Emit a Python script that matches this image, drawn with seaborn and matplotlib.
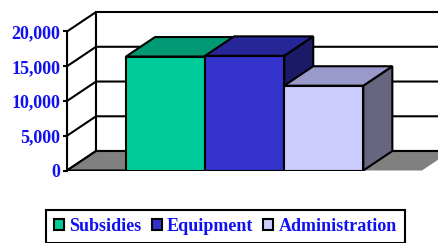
import matplotlib.pyplot as plt
import seaborn as sns
from matplotlib.patches import Polygon, Patch

# chart data
names = ['Subsidies', 'Equipment', 'Administration']
values = [16400, 16500, 12200]
yticks = [0, 5000, 10000, 15000, 20000]
ytick_labels = ['0', '5,000', '10,000', '15,000', '20,000']

# excel-like 3d shading: front / top / side
front_colors = ['#00CC99', '#3333CC', '#CCCCFF']
top_colors = ['#009973', '#262699', '#9999CC']
side_colors = ['#00664D', '#1A1A66', '#666680']
text_blue = '#1010F0'

sns.set_style('white')
plt.rcParams['font.family'] = ['Liberation Serif', 'DejaVu Serif']

fig = plt.figure(figsize=(4.39, 2.43), dpi=100)
ax = fig.add_axes([67 / 439, 72.5 / 243, 372 / 439, 162.5 / 243])

sns.barplot(x=names, y=values, hue=names, palette=front_colors, saturation=1,
            width=1, edgecolor='black', linewidth=1.5, legend=False, ax=ax)
bars = list(ax.patches)

# depth offset of the 3d box (data units)
dx, dy = 0.367, 2800
xl, x_floor = -1.246, 3.242
ax.set_xlim(xl, 3.457)
ax.set_ylim(0, 23380)

# walls
ax.add_patch(Polygon([(xl, 0), (xl, 20000), (xl + dx, 20000 + dy), (xl + dx, dy)],
                     fc='white', ec='black', lw=1.5, zorder=1))
ax.add_patch(Polygon([(xl + dx, dy), (xl + dx, 20000 + dy), (5, 20000 + dy), (5, dy)],
                     fc='white', ec='black', lw=1.5, zorder=1))
for v in yticks[1:-1]:
    ax.plot([xl, xl + dx, 5], [v, v + dy, v + dy], color='black', lw=1.5, zorder=1.5)

# floor
ax.add_patch(Polygon([(xl, 0), (x_floor, 0), (x_floor + dx, dy), (xl + dx, dy)],
                     fc='#808080', ec='none', zorder=2))
ax.plot([xl + dx, 5], [dy, dy], color='black', lw=1.5, zorder=2.5)
ax.plot([xl + dx, xl, -0.5], [dy, 0, 0], color='black', lw=1.5, zorder=2.5)

# top and side faces for each bar
for i, p in enumerate(bars):
    x0, w, h = p.get_x(), p.get_width(), p.get_height()
    ax.add_patch(Polygon([(x0 + w, 0), (x0 + w, h), (x0 + w + dx, h + dy), (x0 + w + dx, dy)],
                         fc=side_colors[i], ec='black', lw=1.5, zorder=3 + 3 * i))
    ax.add_patch(Polygon([(x0, h), (x0 + dx, h + dy), (x0 + w + dx, h + dy), (x0 + w, h)],
                         fc=top_colors[i], ec='black', lw=1.5, zorder=4 + 3 * i))
    p.set_zorder(5 + 3 * i)

# axis styling
for s in ['top', 'right', 'bottom']:
    ax.spines[s].set_visible(False)
ax.spines['left'].set_bounds(0, 20000)
ax.spines['left'].set_linewidth(1.5)
ax.spines['left'].set_color('black')
ax.spines['left'].set_zorder(20)
ax.set_xticks([])
ax.set_yticks(yticks, ytick_labels)
ax.tick_params(axis='y', direction='out', length=3, width=1.5, color='black',
               labelcolor=text_blue, labelsize=13, pad=2, left=True)
for lab in ax.get_yticklabels():
    lab.set_fontweight('bold')
ax.set_xlabel('')
ax.set_ylabel('')

handles = [Patch(fc=c, ec='black', lw=1.5) for c in front_colors]
leg = fig.legend(handles, names, loc='upper left', bbox_to_anchor=(46 / 439, 1 - 210 / 243),
                 ncol=3, frameon=True, fancybox=False, edgecolor='black', framealpha=1,
                 prop=dict(family='Liberation Serif', weight='bold', size=13),
                 handlelength=0.55, handleheight=0.55, handletextpad=0.3,
                 columnspacing=0.55, borderpad=0.45, borderaxespad=0,
                 labelcolor=text_blue)
leg.get_frame().set_linewidth(1.5)

fig.savefig('out.png', dpi=100)
